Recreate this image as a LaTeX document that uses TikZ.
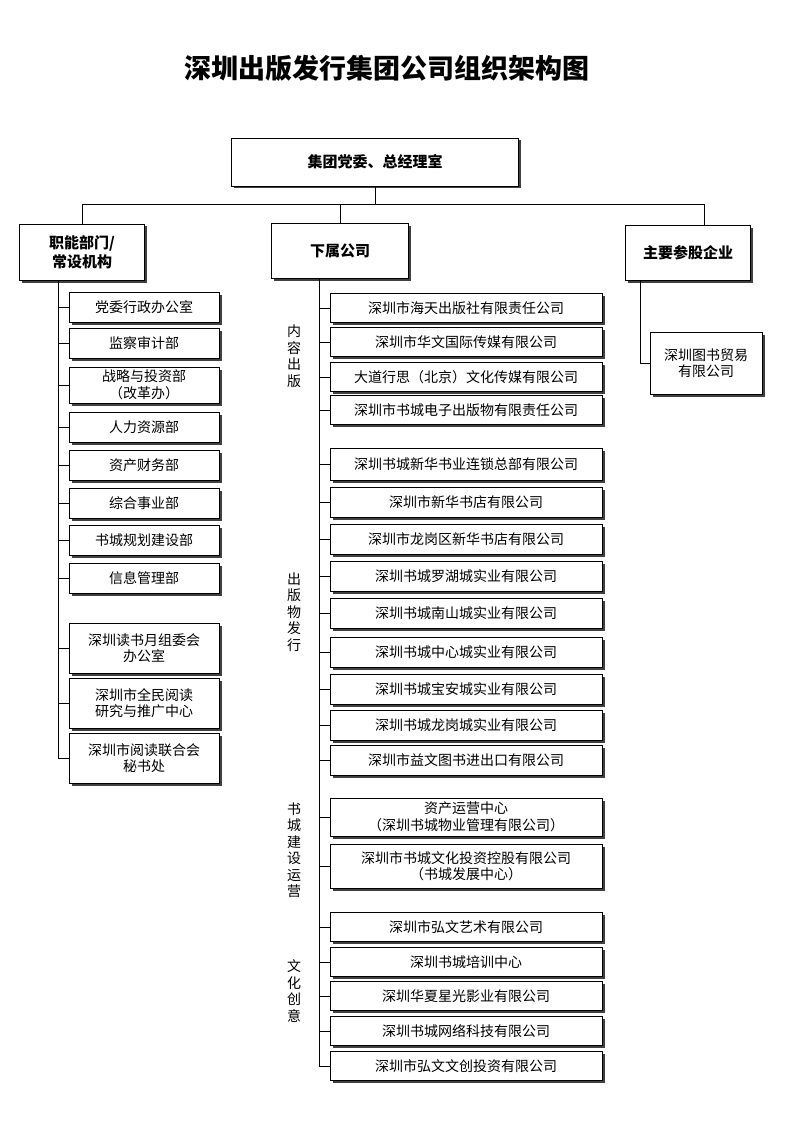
\documentclass[tikz,border=0pt]{standalone}
\usepackage{fontspec}
\setmainfont{Noto Sans CJK SC}
\usetikzlibrary{positioning,shadows}

\tikzset{
  box/.style={draw, thick, fill=white, align=center, inner sep=1pt,
    drop shadow={shadow xshift=2.5pt, shadow yshift=-2.5pt, fill=black!75, opacity=1},
    font=\fontsize{14}{16.5}\selectfont},
  headbox/.style={box, font=\fontsize{15}{19}\selectfont\bfseries},
  sidelabel/.style={align=center, font=\fontsize{14}{16.5}\selectfont},
  link/.style={draw, thin}
}

\begin{document}
\begin{tikzpicture}[x=1pt, y=-1pt]
  \useasboundingbox (0,0) rectangle (794,1123);

  % Title
  \node[font=\fontsize{27}{30}\selectfont\bfseries] (title) at (387,68) {深圳出版发行集团公司组织架构图};

  % Top level
  \node[headbox, minimum width=287pt, minimum height=48pt] (top) at (375,162) {集团党委、总经理室};
  \node[headbox, minimum width=125pt, minimum height=56pt] (func) at (82,252) {职能部门/\\常设机构};
  \node[headbox, minimum width=137pt, minimum height=55pt] (sub) at (340,251) {下属公司};
  \node[headbox, minimum width=125pt, minimum height=55pt] (share) at (688,253) {主要参股企业};

  \coordinate (bus) at (375,204);
  \coordinate (busr) at (704,204);
  \draw[link] (top.south) -- (bus);
  \draw[link] (func.north |- bus) -- (busr) -- (busr |- share.north);
  \draw[link] (func.north |- bus) -- (func.north);
  \draw[link] (sub.north |- bus) -- (sub.north);

  % Spines
  \coordinate (lspine) at (58,758);
  \coordinate (mspine) at (319,1066);
  \coordinate (rspine) at (640,363);

  % Functional departments
  \foreach \i/\y/\h/\t in {1/307/30/党委行政办公室, 2/343/30/监察审计部,
      3/385/36/战略与投资部\\（改革办）, 4/427/30/人力资源部, 5/465/30/资产财务部,
      6/503/30/综合事业部, 7/540/30/书城规划建设部, 8/578/30/信息管理部,
      9/648/50/深圳读书月组委会\\办公室, 10/703/50/深圳市全民阅读\\研究与推广中心,
      11/758/50/深圳市阅读联合会\\秘书处} {
    \node[box, minimum width=150pt, minimum height=\h pt] (f\i) at (144,\y) {\t};
    \draw[link] (lspine |- f\i.west) -- (f\i.west);
  }
  \draw[link] (lspine |- func.south) -- (lspine);

  % Subsidiaries
  \foreach \i/\y/\h/\t in {1/308/29/深圳市海天出版社有限责任公司, 2/342/29/深圳市华文国际传媒有限公司,
      3/377/29/大道行思（北京）文化传媒有限公司, 4/410/29/深圳市书城电子出版物有限责任公司,
      5/464/32/深圳书城新华书业连锁总部有限公司, 6/502/30/深圳市新华书店有限公司,
      7/539/30/深圳市龙岗区新华书店有限公司, 8/576/30/深圳书城罗湖城实业有限公司,
      9/613/30/深圳书城南山城实业有限公司, 10/652/30/深圳书城中心城实业有限公司,
      11/689/30/深圳书城宝安城实业有限公司, 12/725/30/深圳书城龙岗城实业有限公司,
      13/760/30/深圳市益文图书进出口有限公司,
      14/817/38/资产运营中心\\（深圳书城物业管理有限公司）,
      15/866/44/深圳市书城文化投资控股有限公司\\（书城发展中心）,
      16/927/29/深圳市弘文艺术有限公司, 17/962/29/深圳书城培训中心,
      18/996/29/深圳华夏星光影业有限公司, 19/1031/29/深圳书城网络科技有限公司,
      20/1066/29/深圳市弘文文创投资有限公司} {
    \node[box, minimum width=272pt, minimum height=\h pt] (s\i) at (466,\y) {\t};
    \draw[link] (mspine |- s\i.west) -- (s\i.west);
  }
  \draw[link] (mspine |- sub.south) -- (mspine);

  % Group labels
  \node[sidelabel] (gpub) at (294,356) {内\\容\\出\\版};
  \node[sidelabel] (gdist) at (294,612) {出\\版\\物\\发\\行};
  \node[sidelabel] (gbuild) at (294,850) {书\\城\\建\\设\\运\\营};
  \node[sidelabel] (gcult) at (294,991) {文\\化\\创\\意};

  % Shareholdings
  \node[box, minimum width=112pt, minimum height=62pt] (trade) at (706,363) {深圳图书贸易\\有限公司};
  \draw[link] (rspine |- share.south) -- (rspine) -- (trade.west);
\end{tikzpicture}
\end{document}
